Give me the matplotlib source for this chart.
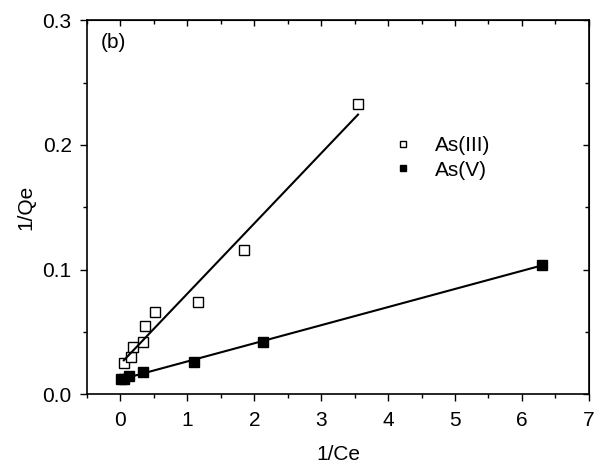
import numpy as np
import matplotlib.pyplot as plt
from matplotlib.ticker import MultipleLocator

plt.rcParams['font.family'] = ['Liberation Sans', 'DejaVu Sans']

# Langmuir linearised data, 1/Ce vs 1/Qe
as3_x = [0.05, 0.15, 0.18, 0.33, 0.37, 0.52, 1.16, 1.84, 3.55]
as3_y = [0.0253, 0.030, 0.038, 0.042, 0.0545, 0.066, 0.0742, 0.1159, 0.233]
as5_x = [0.005, 0.05, 0.125, 0.34, 1.10, 2.13, 6.30]
as5_y = [0.012, 0.0125, 0.0147, 0.018, 0.026, 0.042, 0.1039]

fig = plt.figure(figsize=(5.96, 4.70), dpi=100)
ax = fig.add_axes([0.146, 0.161, 0.842, 0.796])

ax.plot(as3_x, as3_y, 's', mfc='white', mec='black', mew=1.0, ms=6.5, label='As(III)')
ax.plot(as5_x, as5_y, 's', mfc='black', mec='black', ms=6.5, label='As(V)')

# linear fits
for xs, ys in ((as3_x, as3_y), (as5_x, as5_y)):
    k, b = np.polyfit(xs, ys, 1)
    xl = np.array([min(xs), max(xs)])
    ax.plot(xl, k * xl + b, color='black', lw=1.5)

ax.set_xlim(-0.5, 7)
ax.set_ylim(0, 0.3)
ax.xaxis.set_major_locator(MultipleLocator(1))
ax.xaxis.set_minor_locator(MultipleLocator(0.5))
ax.yaxis.set_major_locator(MultipleLocator(0.1))
ax.yaxis.set_minor_locator(MultipleLocator(0.05))
ax.yaxis.set_major_formatter(plt.FormatStrFormatter('%.1f'))
ax.tick_params(which='both', direction='out', labelsize=15, width=1, top=False, right=False)
ax.tick_params(which='major', length=5)
ax.tick_params(which='minor', length=3)
ax.tick_params(axis='x', which='major', pad=7)
ax.tick_params(axis='y', which='major', pad=6)

# inward ticks on the top and right frame
sec_x = ax.secondary_xaxis('top')
sec_x.xaxis.set_major_locator(MultipleLocator(1))
sec_x.xaxis.set_minor_locator(MultipleLocator(0.5))
sec_x.tick_params(which='both', direction='in', labeltop=False, width=1)
sec_x.tick_params(which='major', length=4)
sec_x.tick_params(which='minor', length=3)
sec_y = ax.secondary_yaxis('right')
sec_y.yaxis.set_major_locator(MultipleLocator(0.1))
sec_y.yaxis.set_minor_locator(MultipleLocator(0.05))
sec_y.tick_params(which='both', direction='in', labelright=False, width=1)
sec_y.tick_params(which='major', length=4)
sec_y.tick_params(which='minor', length=3)

for s in ax.spines.values():
    s.set_linewidth(1.2)

ax.set_xlabel('1/Ce', fontsize=15, labelpad=11)
ax.set_ylabel('1/Qe', fontsize=15, labelpad=5)
ax.text(0.028, 0.965, '(b)', transform=ax.transAxes, fontsize=15, va='top', ha='left')

ax.legend(loc='upper left', bbox_to_anchor=(0.572, 0.741), frameon=False, fontsize=15,
          markerscale=0.7, handlelength=1.0, handletextpad=1.0, labelspacing=0.28)

fig.savefig('out.png', dpi=100)
